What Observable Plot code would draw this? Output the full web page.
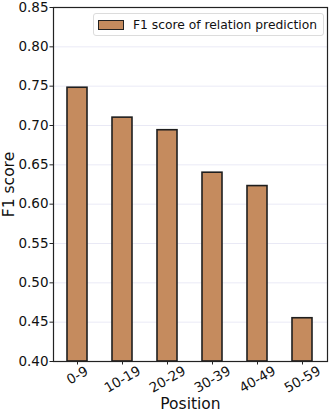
<!DOCTYPE html>
<html>
<head>
<meta charset="utf-8">
<script src="https://cdn.jsdelivr.net/npm/d3@7"></script>
<script src="https://cdn.jsdelivr.net/npm/@observablehq/plot@0.6"></script>
<style>
  html, body { margin: 0; padding: 0; background: #fff; }
  #wrap { position: relative; width: 332px; height: 415px; font-family: "DejaVu Sans", sans-serif; }
  #legend { position: absolute; left: 93px; top: 13px; width: 231px; height: 23px; box-sizing: border-box;
    border: 1px solid #dcdcdc; border-radius: 3px; background: rgba(255,255,255,0.85);
    display: flex; align-items: center; font-size: 12.3px; color: #111; white-space: nowrap; }
  #legend .sw { width: 26px; height: 10px; margin-left: 4px; margin-right: 9px; box-sizing: border-box;
    border: 1.5px solid #222; background: #C58B5E; flex: none; }
</style>
</head>
<body>
<div id="wrap"></div>
<script>
const categories = ["0-9", "10-19", "20-29", "30-39", "40-49", "50-59"];
const f1Values = [0.748, 0.710, 0.694, 0.640, 0.623, 0.455];
const yTicks = [0.40, 0.45, 0.50, 0.55, 0.60, 0.65, 0.70, 0.75, 0.80, 0.85];
const legendLabel = "F1 score of relation prediction";
const xTitle = "Position";
const yTitle = "F1 score";

const data = categories.map((c, i) => ({pos: c, f1: f1Values[i]}));

const chart = Plot.plot({
  width: 332,
  height: 415,
  marginLeft: 53,
  marginRight: 5,
  marginTop: 7,
  marginBottom: 54,
  style: {fontFamily: "DejaVu Sans, sans-serif", fontSize: "13.5px", color: "#111", background: "#fff"},
  x: {type: "band", domain: categories, paddingInner: 0.55, paddingOuter: 0.275},
  y: {domain: [0.40, 0.85]},
  marks: [
    Plot.gridY(yTicks, {stroke: "#dcdcf0", strokeOpacity: 0.8, strokeWidth: 0.8}),
    Plot.rectY(data, {x: "pos", y1: 0.40, y2: "f1", fill: "#C58B5E", stroke: "#1e1e1e", strokeWidth: 1.6}),
    Plot.axisX({tickSize: 3.5, stroke: "#222", tickFormat: () => "", label: null}),
    Plot.axisY(yTicks, {tickFormat: d => d.toFixed(2), tickSize: 3.5, tickPadding: 1.5, stroke: "#222", fontSize: 13.5, label: null}),
    Plot.text(categories.filter(c => c.length <= 3), {x: d => d, frameAnchor: "bottom", lineAnchor: "middle", dy: 14, rotate: -30, textAnchor: "middle", fontSize: 13.5, fill: "#111"}),
    Plot.text(categories.filter(c => c.length > 3), {x: d => d, frameAnchor: "bottom", lineAnchor: "middle", dy: 18, rotate: -30, textAnchor: "middle", fontSize: 13.5, fill: "#111"}),
    Plot.text([yTitle], {frameAnchor: "left", textAnchor: "middle", lineAnchor: "middle", dx: -44, rotate: -90, fontSize: 15.5, fill: "#111"}),
    Plot.text([xTitle], {frameAnchor: "bottom", textAnchor: "middle", dy: 47, fontSize: 15.5, fill: "#111"}),
    Plot.frame({stroke: "#222", strokeWidth: 1.2})
  ]
});

const wrap = document.getElementById("wrap");
wrap.appendChild(chart);
const lg = document.createElement("div");
lg.id = "legend";
lg.innerHTML = '<span class="sw"></span><span>' + legendLabel + '</span>';
wrap.appendChild(lg);
</script>
</body>
</html>
